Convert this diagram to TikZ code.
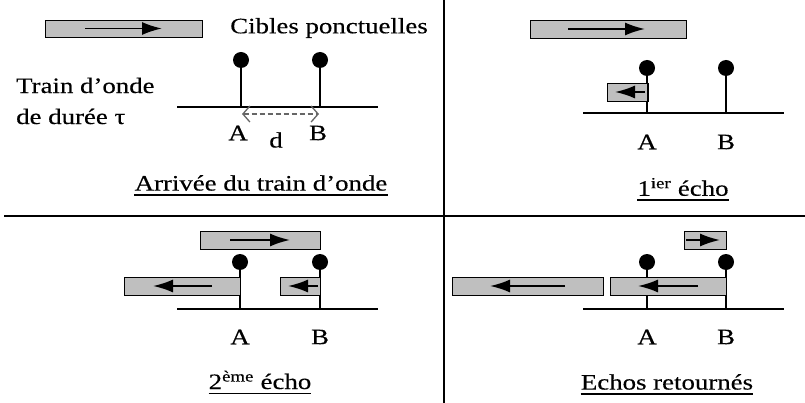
\documentclass[tikz,border=0pt]{standalone}
\usepackage{fontspec}
\setmainfont[FakeStretch=1.22,FakeBold=0.3]{Liberation Serif}
\usetikzlibrary{arrows.meta}
\begin{document}
\begin{tikzpicture}[x=1pt,y=-1pt,
  every node/.style={font=\fontsize{22}{31}\selectfont},
  frame/.style={line width=1.8pt},
  base/.style={line width=1.8pt},
  stem/.style={line width=1.6pt},
  ball/.style={circle, fill=black, minimum size=16pt, inner sep=0pt},
  pulse/.style={draw, line width=1.4pt, fill=gray!50, inner sep=0pt, anchor=north west, minimum height=18pt},
  parr/.style={line width=1.8pt, -{Latex[length=20pt,width=13pt]}},
  dist/.style={gray!80!black, line width=1.3pt, dash pattern=on 5pt off 3pt, {Straight Barb[length=7pt,width=16pt]}-{Straight Barb[length=7pt,width=16pt]}},
  lab/.style={inner sep=0pt},
  uline/.style={line width=1.7pt},
]
\useasboundingbox (0,0) rectangle (805,403);

% dividers
\coordinate (hl) at (4,216); \coordinate (hr) at (805,216);
\coordinate (vt) at (444,0); \coordinate (vb) at (444,403);
\draw[frame] (hl) -- (hr);
\draw[frame] (vt) -- (vb);

% ---------- panel 1 ----------
\node[pulse, minimum width=157pt, minimum height=17pt] (p1) at (45,20) {};
\coordinate (p1s) at (85,28.5); \coordinate (p1e) at (162,28.5);
\draw[parr] (p1s) -- (p1e);
\node[lab] (cib) at (329,28) {Cibles ponctuelles};
\node[lab, anchor=west, align=left] (train) at (16,101) {Train d’onde\\de durée τ};
\coordinate (l1) at (177,107); \coordinate (r1) at (378,107);
\draw[base] (l1) -- (r1);
\node[ball] (a1) at (241,60) {};
\node[ball] (b1) at (320,60) {};
\draw[stem] (a1.center) -- (a1.center |- l1);
\draw[stem] (b1.center) -- (b1.center |- l1);
\coordinate (d1) at (242,114); \coordinate (d2) at (319,114);
\draw[dist] (d1) -- (d2);
\node[lab] (A1) at (238,133) {A};
\node[lab] (B1) at (318,133) {B};
\node[lab] (dd) at (276,140) {d};
\node[lab] (c1) at (261,183) {Arrivée du train d’onde};
\draw[uline] ([yshift=-4pt]c1.south west) -- ([yshift=-4pt]c1.south east);

% ---------- panel 2 ----------
\node[pulse, minimum width=156pt] (p2) at (530,20) {};
\coordinate (p2s) at (568,29); \coordinate (p2e) at (645,29);
\draw[parr] (p2s) -- (p2e);
\coordinate (l2) at (583,113); \coordinate (r2) at (784,113);
\draw[base] (l2) -- (r2);
\node[ball] (a2) at (647,68) {};
\node[ball] (b2) at (726,68) {};
\draw[stem] (a2.center) -- (a2.center |- l2);
\draw[stem] (b2.center) -- (b2.center |- l2);
\node[pulse, minimum width=40pt] (e2) at (607,83) {};
\coordinate (e2s) at (645,92); \coordinate (e2e) at (615,92);
\draw[parr] (e2s) -- (e2e);
\draw[stem] (e2.north east) -- (e2.south east);
\node[lab] (A2) at (647,142) {A};
\node[lab] (B2) at (726,142) {B};
\node[lab] (c2) at (683,187) {1\textsuperscript{ier} écho};
\draw[uline] ([yshift=-4pt]c2.south west) -- ([yshift=-4pt]c2.south east);

% ---------- panel 3 ----------
\node[pulse, minimum width=120pt] (p3) at (200,231) {};
\coordinate (p3s) at (230,240); \coordinate (p3e) at (290,240);
\draw[parr] (p3s) -- (p3e);
\coordinate (l3) at (177,309); \coordinate (r3) at (378,309);
\draw[base] (l3) -- (r3);
\node[ball] (a3) at (240,262) {};
\node[ball] (b3) at (320,262) {};
\draw[stem] (a3.center) -- (a3.center |- l3);
\draw[stem] (b3.center) -- (b3.center |- l3);
\node[pulse, minimum width=116pt] (e3a) at (124,277) {};
\coordinate (e3as) at (212,286); \coordinate (e3ae) at (153,286);
\draw[parr] (e3as) -- (e3ae);
\node[pulse, minimum width=40pt] (e3b) at (280,277) {};
\coordinate (e3bs) at (318,286); \coordinate (e3be) at (288,286);
\draw[parr] (e3bs) -- (e3be);
\node[lab] (A3) at (240,337) {A};
\node[lab] (B3) at (320,337) {B};
\node[lab] (c3) at (260,380) {2\textsuperscript{ème} écho};
\draw[uline] ([yshift=-4pt]c3.south west) -- ([yshift=-4pt]c3.south east);

% ---------- panel 4 ----------
\node[pulse, minimum width=42pt] (p4) at (684,231) {};
\coordinate (p4s) at (686,240); \coordinate (p4e) at (720,240);
\draw[parr] (p4s) -- (p4e);
\coordinate (l4) at (583,309); \coordinate (r4) at (784,309);
\draw[base] (l4) -- (r4);
\node[ball] (a4) at (647,262) {};
\node[ball] (b4) at (726,262) {};
\draw[stem] (a4.center) -- (a4.center |- l4);
\draw[stem] (b4.center) -- (b4.center |- l4);
\node[pulse, minimum width=116pt] (e4a) at (610,277) {};
\coordinate (e4as) at (698,286); \coordinate (e4ae) at (638,286);
\draw[parr] (e4as) -- (e4ae);
\node[pulse, minimum width=151pt] (e4b) at (452,277) {};
\coordinate (e4bs) at (565,286); \coordinate (e4be) at (490,286);
\draw[parr] (e4bs) -- (e4be);
\node[lab] (A4) at (647,337) {A};
\node[lab] (B4) at (726,337) {B};
\node[lab] (c4) at (667,382) {Echos retournés};
\draw[uline] ([yshift=-4pt]c4.south west) -- ([yshift=-4pt]c4.south east);
\end{tikzpicture}
\end{document}
